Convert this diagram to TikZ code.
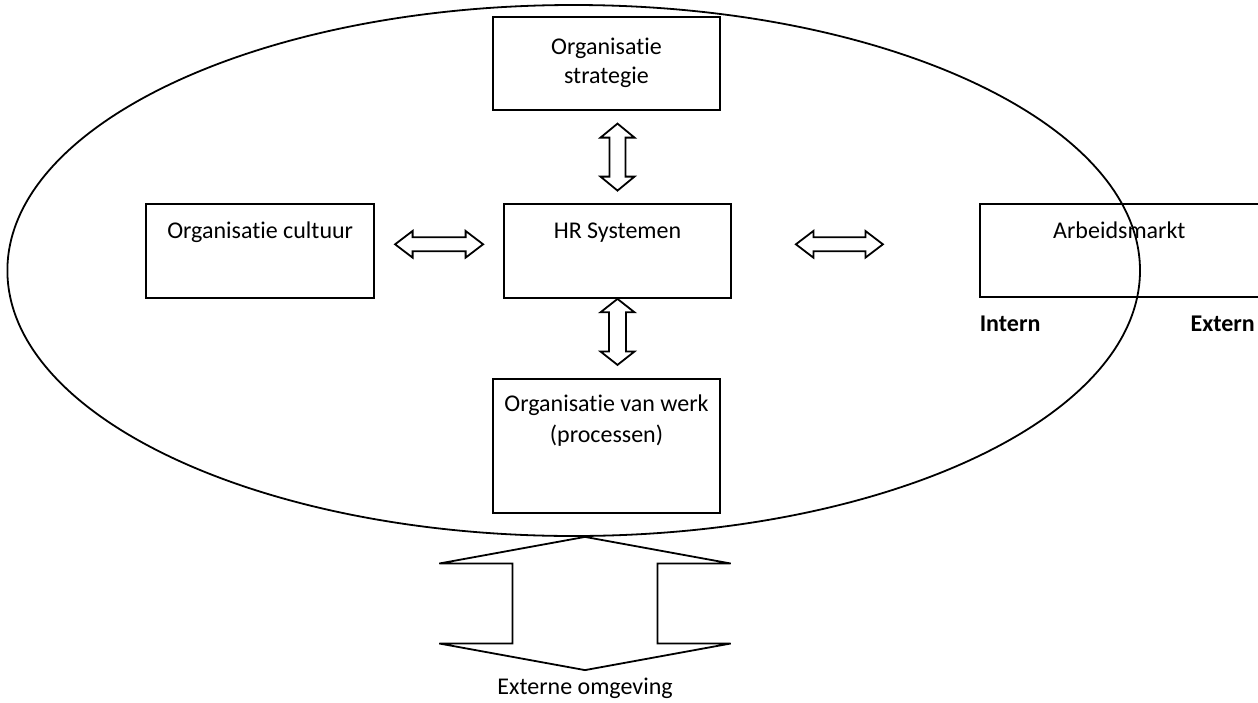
\documentclass[tikz,border=0pt]{standalone}
\usepackage{fontspec}
\setmainfont{Carlito}[Ligatures=NoCommon]
\usetikzlibrary{positioning,calc,shapes.geometric}

\begin{document}
\begin{tikzpicture}[
  line width=0.9pt, node distance=46pt,
  font=\fontsize{12pt}{14.4pt}\selectfont,
  box/.style={draw, align=center, inner xsep=0pt, inner ysep=0pt,
    minimum width=113.5pt, text height=17.2pt, text depth=29.8pt},
  lab/.style={inner sep=0pt},
  orgring/.style={draw, ellipse, inner sep=0pt},
  pics/dblarrow/.style n args={4}{code={
    \draw (-#1/2,0) -- ++(#2,#3/2) -- ++(0,#4/2-#3/2) -- (#1/2-#2,#4/2)
      -- ++(0,#3/2-#4/2) -- (#1/2,0) -- ++(-#2,-#3/2) -- ++(0,#3/2-#4/2)
      -- (-#1/2+#2,-#4/2) -- ++(0,#4/2-#3/2) -- cycle;
  }}
]
\useasboundingbox (0,0) rectangle (629pt,-351pt);

% organisatie
\node[orgring, minimum width=566.3pt, minimum height=265.5pt] (orgel) at (286.85pt,-135.25pt) {};

\node[box] (hr) at (308.75pt,-125.5pt) {HR Systemen};
\node[box, minimum width=114pt, left=64pt of hr] (cult) {Organisatie cultuur};
\node[box, above=46pt of hr, xshift=-5.5pt, text height=33pt, text depth=13.5pt] (strat) {Organisatie\\strategie};
\node[box, below=39.5pt of hr, xshift=-5.5pt, text height=32pt, text depth=35pt] (werk) {Organisatie van werk\\[1.1pt](processen)};
\node[box, minimum width=139.5pt, right=123.5pt of hr, yshift=0.25pt, text depth=29.3pt] (arb) {Arbeidsmarkt};

\node[lab, anchor=west] (intern) at ($(arb.south west)+(0,-12.85pt)$) {\textbf{Intern}};
\node[lab, anchor=east] (extern) at ($(arb.south east)+(-2pt,-12.85pt)$) {\textbf{Extern}};

% pijlen
\pic[rotate=90] (uparr) at ($(hr.north)!0.5!(hr.north |- strat.south)$) {dblarrow={33.5pt}{7pt}{17pt}{8pt}};
\pic[rotate=90] (downarr) at ($(hr.south)+(0,-16.5pt)$) {dblarrow={33pt}{6.7pt}{17pt}{8.5pt}};
\pic (leftarr) at ($(cult.east)!0.5!(hr.west)+(0,3.35pt)$) {dblarrow={44pt}{8.75pt}{13.35pt}{7pt}};
\pic (rightarr) at ($(hr.east)+(53.75pt,3.35pt)$) {dblarrow={43.5pt}{8.75pt}{13.35pt}{7pt}};

% omgeving
\pic[rotate=90] (extarr) at ($(orgel.south)+(5.65pt,-33.3pt)$) {dblarrow={66.6pt}{13.3pt}{145.7pt}{72.5pt}};
\coordinate (exttip) at ($(orgel.south)+(5.65pt,-66.6pt)$);
\node[lab, below=3.3pt of exttip] (omgeving) {Externe omgeving};
\end{tikzpicture}
\end{document}
